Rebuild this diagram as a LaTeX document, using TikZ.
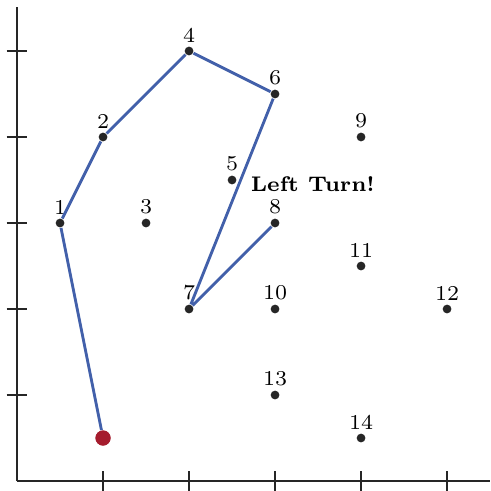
\documentclass[tikz,border=0pt]{standalone}
\usepackage{amsmath,amssymb}
\usetikzlibrary{arrows.meta,positioning}
\definecolor{hullblue}{RGB}{66,96,170}
\definecolor{startred}{RGB}{165,28,45}

\begin{document}
\begin{tikzpicture}[x=1cm, y=1cm,
        pt/.style={circle, fill=black!85, inner sep=0pt, minimum size=2.9pt, label distance=-1.8pt},
        start/.style={circle, fill=startred, inner sep=0pt, minimum size=5pt},
        hull/.style={hullblue, line width=0.95pt},
        axis/.style={black!85, line width=0.6pt},
        every label/.style={font=\scriptsize, inner sep=1pt}
    ]
        \useasboundingbox (-0.198,-0.116) rectangle (5.5,5.593);

        % 1. The axes with ticks
        \draw[axis] (0,0) -- (0,5.51);
        \draw[axis] (0,0) -- (5.5,0);
        \foreach \k in {1,...,5} {
            \draw[axis] (\k,-0.12) -- (\k,0.12);
            \draw[axis] (-0.12,\k) -- (0.12,\k);
        }

        % 2. The points
        \node[start] (s) at (1,0.5) {};
        \node[pt, label=above:1] (p1) at (0.5,3) {};
        \node[pt, label=above:2] (p2) at (1,4) {};
        \node[pt, label=above:3] (p3) at (1.5,3) {};
        \node[pt, label=above:4] (p4) at (2,5) {};
        \node[pt, label=above:5] (p5) at (2.5,3.5) {};
        \node[pt, label=above:6] (p6) at (3,4.5) {};
        \node[pt, label=above:7] (p7) at (2,2) {};
        \node[pt, label=above:8] (p8) at (3,3) {};
        \node[pt, label=above:9] (p9) at (4,4) {};
        \node[pt, label=above:10] (p10) at (3,2) {};
        \node[pt, label=above:11] (p11) at (4,2.5) {};
        \node[pt, label=above:12] (p12) at (5,2) {};
        \node[pt, label=above:13] (p13) at (3,1) {};
        \node[pt, label=above:14] (p14) at (4,0.5) {};

        % 3. The walk
        \draw[hull] (s) -- (p1) -- (p2) -- (p4) -- (p6) -- (p7) -- (p8);
        \node[start] at (s) {};

        % 4. The note
        \node[font=\scriptsize\bfseries] (turn) at (3.44,3.45) {Left Turn!};

    \end{tikzpicture}
\end{document}
